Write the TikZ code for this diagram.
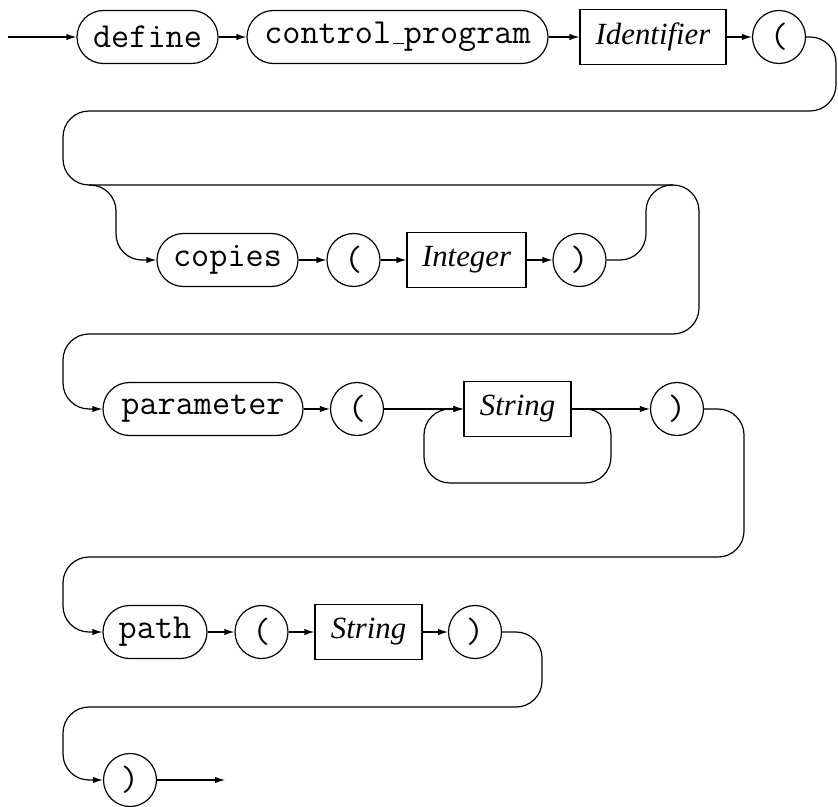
\documentclass[tikz,border=0pt]{standalone}
\usepackage{fontspec}
\setmainfont{Liberation Serif}
\usetikzlibrary{arrows.meta}
\newcommand{\lowbar}{\leavevmode\kern.06em\vbox{\hrule width.3em}}

\begin{document}
\begin{tikzpicture}[x=0.5pt,y=-0.5pt,line width=0.6pt,
% rails with a small filled arrow head at the end
rail/.style={rounded corners=13pt,-{Latex[length=5pt,width=3.2pt]}},
keyword/.style={draw,rounded corners=13.25pt,minimum height=26.5pt,inner sep=0pt,
  font=\ttfamily\fontsize{17.6}{20}\selectfont},
token/.style={draw,circle,minimum size=26.5pt,inner sep=0pt,
  font=\ttfamily\fontsize{17.6}{20}\selectfont},
nonterm/.style={draw,minimum height=27.5pt,inner sep=0pt,
  font=\itshape\fontsize{15.4}{18}\selectfont}]
\useasboundingbox (0,0) rectangle (838,806);
% entry and exit of the rail
\coordinate (entry) at (8,37);
\coordinate (exit) at (225,780);
% first row
\node[keyword,minimum width=70.5pt] (define) at (147.5,37) {define};
\node[keyword,minimum width=150.5pt] (ctrl) at (397.5,37) {control\lowbar program};
\node[nonterm,minimum width=73pt] (ident) at (653,37) {Identifier};
\node[token] (lpar) at (779,37) {(};
% optional copies
\node[keyword,minimum width=70.5pt] (copies) at (227.5,260) {copies};
\node[token] (lparc) at (353.5,260) {(};
\node[nonterm,minimum width=59.5pt] (int) at (466.5,260) {Integer};
\node[token] (rparc) at (579.5,260) {)};
\coordinate (split) at (89,185);
\coordinate (join) at (673,185);
% parameter
\node[keyword,minimum width=100pt] (param) at (203,409) {parameter};
\node[token] (lparp) at (357,409) {(};
\node[nonterm,minimum width=53.5pt] (strp) at (517.5,409) {String};
\node[token] (rparp) at (677,409) {)};
% path
\node[keyword,minimum width=52pt] (path) at (155,632) {path};
\node[token] (lpart) at (261.5,632) {(};
\node[nonterm,minimum width=53.5pt] (strt) at (368.5,632) {String};
\node[token] (rpart) at (475,632) {)};
% closing
\node[token] (rparz) at (130,780) {)};
% straight links
\foreach \a/\b in {entry/define,define/ctrl,ctrl/ident,ident/lpar,
    copies/lparc,lparc/int,int/rparc,
    param/lparp,lparp/strp,strp/rparp,
    path/lpart,lpart/strt,strt/rpart,rparz/exit}
  \draw[rail] (\a) -- (\b);
% row changes
\draw[rail] (lpar.east) -- (836,37) -- (836,111) -- (63,111) -- (63,185)
  -- (699,185) -- (699,334) -- (63,334) -- (63,409) -- (param.west);
\draw[rail] (split) -- (116,185) -- (116,260) -- (copies.west);
\draw[rounded corners=13pt] (rparc.east) -- (646,260) -- (646,185) -- (join);
\draw[rail] (strp.east) -- (611,409) -- (611,483) -- (424,483) -- (424,409) -- (strp.west);
\draw[rail] (rparp.east) -- (744,409) -- (744,557) -- (63,557) -- (63,632) -- (path.west);
\draw[rail] (rpart.east) -- (542,632) -- (542,707) -- (63,707) -- (63,780) -- (rparz.west);
\end{tikzpicture}
\end{document}
